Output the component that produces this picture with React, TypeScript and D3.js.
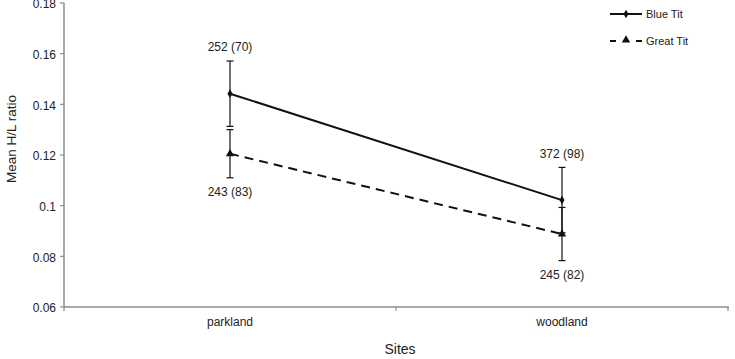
import React from "react";
import * as d3 from "d3";

const categories = ["parkland", "woodland"];
const blueTit = [0.1442, 0.1022];
const blueTitErr = [0.0129, 0.0129];
const greatTit = [0.1205, 0.0888];
const greatTitErr = [0.0095, 0.0105];
const blueLabels = ["252 (70)", "372 (98)"];
const greatLabels = ["243 (83)", "245 (82)"];
const yTicks = [0.06, 0.08, 0.1, 0.12, 0.14, 0.16, 0.18];

const W = 735;
const H = 359;

export default function App() {
  const x = d3.scaleBand<string>().domain(categories).range([64, 728]).padding(0);
  const y = d3.scaleLinear().domain([0.06, 0.18]).range([307, 3]);
  const cx = (c: string) => (x(c) as number) + x.bandwidth() / 2;
  const line = d3
    .line<[number, number]>()
    .x((d) => d[0])
    .y((d) => d[1]);

  const bluePts: [number, number][] = categories.map((c, i) => [cx(c), y(blueTit[i])]);
  const greatPts: [number, number][] = categories.map((c, i) => [cx(c), y(greatTit[i])]);
  const diamond = d3.symbol(d3.symbolDiamond, 22)();
  const triangle = d3.symbol(d3.symbolTriangle, 30)();
  const font = "Liberation Sans, Arial, sans-serif";
  const axisColor = "#8c8c8c";
  const boundaries = [64, ...categories.map((c) => (x(c) as number) + x.bandwidth())];

  const errBar = (c: string, v: number, e: number, key: string) => {
    const px = cx(c);
    return (
      <g key={key} stroke="#111" strokeWidth={1.2}>
        <line x1={px} x2={px} y1={y(v + e)} y2={y(v - e)} />
        <line x1={px - 3.5} x2={px + 3.5} y1={y(v + e)} y2={y(v + e)} />
        <line x1={px - 3.5} x2={px + 3.5} y1={y(v - e)} y2={y(v - e)} />
      </g>
    );
  };

  return (
    <svg width={W} height={H} style={{ position: "absolute", left: 0, top: 0, background: "#fff" }}>
      {/* axes */}
      <line x1={64} x2={64} y1={3} y2={307} stroke={axisColor} strokeWidth={1.5} />
      <line x1={64} x2={729} y1={307} y2={307} stroke={axisColor} strokeWidth={1.5} />
      {yTicks.map((t) => (
        <g key={t}>
          <line x1={60} x2={64} y1={y(t)} y2={y(t)} stroke={axisColor} strokeWidth={1.2} />
          <text x={56} y={y(t) + 1} dy="0.35em" textAnchor="end" fontFamily={font} fontSize={12} fill="#222">
            {String(t)}
          </text>
        </g>
      ))}
      {boundaries.map((b) => (
        <line key={b} x1={b} x2={b} y1={307} y2={311} stroke={axisColor} strokeWidth={1.2} />
      ))}
      {categories.map((c) => (
        <text key={c} x={cx(c)} y={322} dy="0.35em" textAnchor="middle" fontFamily={font} fontSize={12} fill="#222">
          {c}
        </text>
      ))}
      <text x={400} y={349} dy="0.35em" textAnchor="middle" fontFamily={font} fontSize={14} fill="#222">
        Sites
      </text>
      <text
        transform={`translate(11,139) rotate(-90)`}
        dy="0.35em"
        textAnchor="middle"
        fontFamily={font}
        fontSize={13.5}
        fill="#222"
      >
        Mean H/L ratio
      </text>

      {/* error bars */}
      {categories.map((c, i) => errBar(c, blueTit[i], blueTitErr[i], "b" + c))}
      {categories.map((c, i) => errBar(c, greatTit[i], greatTitErr[i], "g" + c))}

      {/* lines */}
      <path d={line(bluePts) || ""} fill="none" stroke="#111" strokeWidth={2} />
      <path d={line(greatPts) || ""} fill="none" stroke="#111" strokeWidth={2} strokeDasharray="9,6" />
      {bluePts.map((p, i) => (
        <path key={"bd" + i} d={diamond || ""} transform={`translate(${p[0]},${p[1]})`} fill="#111" />
      ))}
      {greatPts.map((p, i) => (
        <path key={"gt" + i} d={triangle || ""} transform={`translate(${p[0]},${p[1]})`} fill="#111" />
      ))}

      {/* data labels */}
      {categories.map((c, i) => (
        <text
          key={"bl" + c}
          x={cx(c)}
          y={y(blueTit[i] + blueTitErr[i]) - 14}
          dy="0.35em"
          textAnchor="middle"
          fontFamily={font}
          fontSize={12}
          fill="#222"
        >
          {blueLabels[i]}
        </text>
      ))}
      {categories.map((c, i) => (
        <text
          key={"gl" + c}
          x={cx(c)}
          y={y(greatTit[i] - greatTitErr[i]) + 14}
          dy="0.35em"
          textAnchor="middle"
          fontFamily={font}
          fontSize={12}
          fill="#222"
        >
          {greatLabels[i]}
        </text>
      ))}

      {/* legend */}
      <g>
        <line x1={610} x2={642} y1={14} y2={14} stroke="#111" strokeWidth={2} />
        <path d={diamond || ""} transform="translate(626,14)" fill="#111" />
        <text x={646} y={14} dy="0.35em" fontFamily={font} fontSize={11} fill="#222">
          Blue Tit
        </text>
        <line x1={610} x2={642} y1={41} y2={41} stroke="#111" strokeWidth={2} strokeDasharray="6,7" />
        <path d={triangle || ""} transform="translate(626,40)" fill="#111" />
        <text x={646} y={41} dy="0.35em" fontFamily={font} fontSize={11} fill="#222">
          Great Tit
        </text>
      </g>
    </svg>
  );
}
